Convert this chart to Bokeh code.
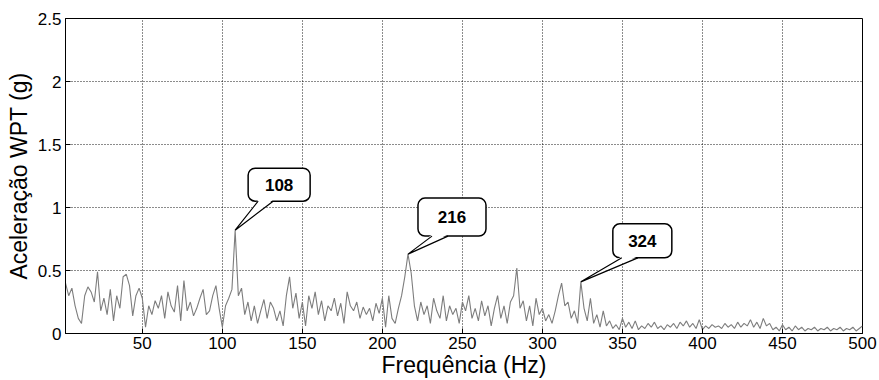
from bokeh.plotting import figure
from bokeh.models import Range1d, FixedTicker
from bokeh.embed import file_html
from bokeh.resources import INLINE
from bokeh.core.properties import value

# ---------------- data ----------------
freq_start, freq_stop, freq_step = 2, 500, 2          # sampling grid (Hz)

amp_002_040 = [0.40, 0.30, 0.36, 0.22, 0.12, 0.08, 0.30, 0.37, 0.33, 0.25,
               0.49, 0.18, 0.28, 0.15, 0.35, 0.10, 0.30, 0.20, 0.45, 0.47]
amp_042_080 = [0.38, 0.14, 0.30, 0.36, 0.28, 0.05, 0.22, 0.15, 0.26, 0.20,
               0.30, 0.12, 0.33, 0.22, 0.17, 0.38, 0.10, 0.42, 0.18, 0.25]
amp_082_120 = [0.14, 0.20, 0.28, 0.35, 0.15, 0.18, 0.30, 0.38, 0.20, 0.05,
               0.22, 0.28, 0.35, 0.82, 0.30, 0.36, 0.15, 0.25, 0.10, 0.22]
amp_122_160 = [0.08, 0.18, 0.27, 0.12, 0.25, 0.20, 0.10, 0.18, 0.06, 0.30,
               0.45, 0.20, 0.32, 0.12, 0.25, 0.06, 0.30, 0.20, 0.33, 0.15]
amp_162_200 = [0.26, 0.10, 0.22, 0.18, 0.28, 0.14, 0.24, 0.08, 0.33, 0.22,
               0.18, 0.25, 0.12, 0.21, 0.15, 0.20, 0.10, 0.24, 0.16, 0.28]
amp_202_240 = [0.05, 0.30, 0.12, 0.08, 0.20, 0.30, 0.45, 0.63, 0.48, 0.22,
               0.10, 0.25, 0.15, 0.22, 0.08, 0.28, 0.18, 0.12, 0.30, 0.10]
amp_242_280 = [0.22, 0.15, 0.20, 0.08, 0.25, 0.18, 0.30, 0.12, 0.20, 0.10,
               0.26, 0.14, 0.22, 0.06, 0.20, 0.30, 0.12, 0.22, 0.08, 0.25]
amp_282_320 = [0.30, 0.52, 0.20, 0.26, 0.10, 0.22, 0.06, 0.28, 0.15, 0.20,
               0.10, 0.15, 0.08, 0.18, 0.30, 0.40, 0.22, 0.25, 0.12, 0.18]
amp_322_360 = [0.08, 0.41, 0.20, 0.10, 0.28, 0.08, 0.15, 0.05, 0.18, 0.06,
               0.10, 0.04, 0.07, 0.03, 0.12, 0.05, 0.09, 0.04, 0.10, 0.03]
amp_362_400 = [0.06, 0.04, 0.08, 0.05, 0.09, 0.04, 0.06, 0.03, 0.07, 0.05,
               0.08, 0.04, 0.09, 0.06, 0.10, 0.05, 0.08, 0.04, 0.11, 0.03]
amp_402_440 = [0.06, 0.04, 0.07, 0.05, 0.06, 0.04, 0.08, 0.05, 0.07, 0.04,
               0.09, 0.05, 0.08, 0.06, 0.11, 0.05, 0.09, 0.04, 0.12, 0.06]
amp_442_480 = [0.08, 0.03, 0.05, 0.02, 0.07, 0.03, 0.05, 0.02, 0.06, 0.03,
               0.05, 0.02, 0.04, 0.03, 0.05, 0.02, 0.04, 0.03, 0.05, 0.02]
amp_482_500 = [0.04, 0.03, 0.05, 0.02, 0.04, 0.03, 0.05, 0.02, 0.04, 0.06]

peak_freqs = [108, 216, 324]
peak_labels = ["108", "216", "324"]

x_ticks = [50, 100, 150, 200, 250, 300, 350, 400, 450, 500]
y_ticks = [0, 0.5, 1, 1.5, 2, 2.5]
y_tick_labels = ["0", "0.5", "1", "1.5", "2", "2.5"]

amplitude = (amp_002_040 + amp_042_080 + amp_082_120 + amp_122_160 +
             amp_162_200 + amp_202_240 + amp_242_280 + amp_282_320 +
             amp_322_360 + amp_362_400 + amp_402_440 + amp_442_480 +
             amp_482_500)
freqs = list(range(freq_start, freq_stop + 1, freq_step))

# ---------------- layout ----------------
W, H = 878, 380
BL, BR, BT, BB = 65, 16, 18, 47
FRAME_W = W - BL - BR
FRAME_H = H - BT - BB
X0, X1 = 2, 500
Y0, Y1 = 0, 2.5
px_hz = FRAME_W / (X1 - X0)
px_g = FRAME_H / (Y1 - Y0)

FONT = "Liberation Sans"

p = figure(width=W, height=H, output_backend="svg", toolbar_location=None,
           x_range=Range1d(X0, X1), y_range=Range1d(Y0, Y1),
           min_border_left=BL, min_border_right=BR,
           min_border_top=BT, min_border_bottom=BB,
           background_fill_color="white", border_fill_color="white")

p.outline_line_color = "black"
p.outline_line_width = 1

for ax in (p.xaxis[0], p.yaxis[0]):
    ax.axis_line_color = "black"
    ax.major_tick_line_color = "black"
    ax.major_tick_in = 5
    ax.major_tick_out = 0
    ax.minor_tick_line_color = None
    ax.major_label_text_font = FONT
    ax.major_label_text_font_size = "17px"
    ax.major_label_text_color = "black"
    ax.axis_label_text_font = FONT
    ax.axis_label_text_font_size = "23px"
    ax.axis_label_text_font_style = "normal"
    ax.axis_label_text_color = "black"

p.xaxis.ticker = FixedTicker(ticks=x_ticks)
p.xaxis.major_label_standoff = 3
p.xaxis.axis_label = "Frequência (Hz)"
p.xaxis.axis_label_standoff = 0
p.yaxis.ticker = FixedTicker(ticks=y_ticks)
p.yaxis.major_label_overrides = {t: s for t, s in zip(y_ticks, y_tick_labels)}
p.yaxis.major_label_standoff = 4
p.yaxis.axis_label = "Aceleração WPT (g)"
p.yaxis.axis_label_standoff = 3

for g in (p.xgrid[0], p.ygrid[0]):
    g.grid_line_color = "black"
    g.grid_line_dash = "1 2"
    g.grid_line_width = 1
    g.grid_line_alpha = 0.9

p.line(freqs, amplitude, line_color="#7d7d7d", line_width=1.1)

# ---------------- callouts ----------------
# pixel offsets from the peak tip: box left, right, bottom, top, tail base left, right
callout_px = [(13, 75, 29, 62, 23, 38),
              (10, 78, 18, 56, 24, 40),
              (32, 91, 24, 58, 41, 57)]

for f, lab, (dl, dr, db, dt, tl, tr) in zip(peak_freqs, peak_labels, callout_px):
    fy = amplitude[freqs.index(f)]
    left, right = f + dl / px_hz, f + dr / px_hz
    bottom, top = fy + db / px_g, fy + dt / px_g
    bl, br = f + tl / px_hz, f + tr / px_hz
    p.quad(left=left, right=right, bottom=bottom, top=top,
           fill_color="white", line_color="black", line_width=1.5,
           border_radius=7)
    p.patch([bl, f, br], [bottom + 1.5 / px_g, fy, bottom + 1.5 / px_g],
            fill_color="white", line_color=None)
    p.line([bl, f, br], [bottom, fy, bottom], line_color="black", line_width=1.2)
    p.text(x=[(left + right) / 2], y=[(top + bottom) / 2], text=[lab],
           text_align="center", text_baseline="middle",
           text_font=value(FONT), text_font_size="17px",
           text_font_style="bold", text_color="black")

open("out.html", "w").write(file_html(p, INLINE))
